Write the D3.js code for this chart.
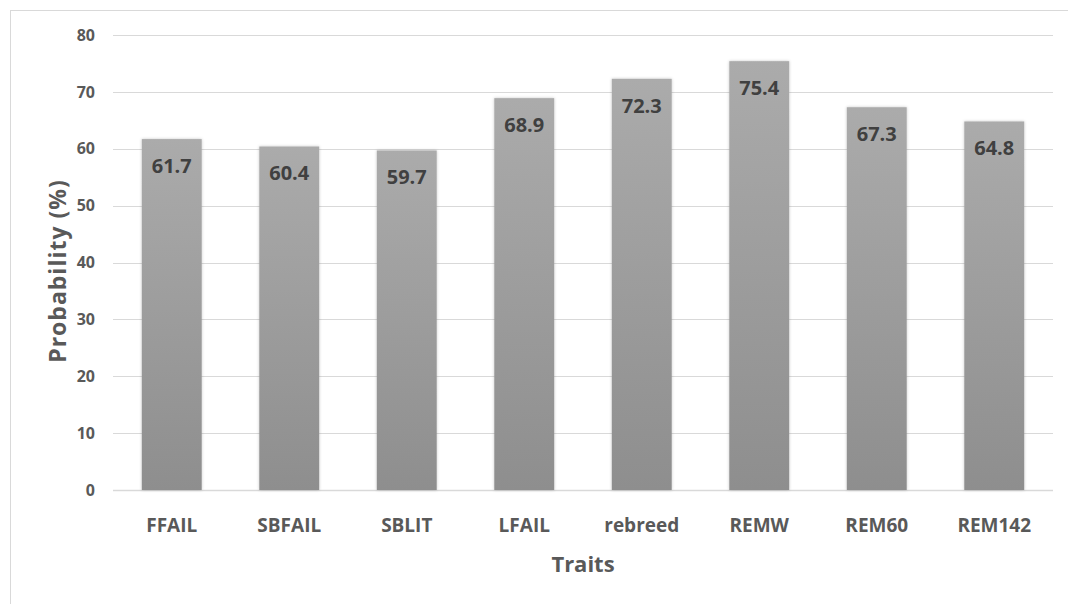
<!DOCTYPE html>
<html><head><meta charset="utf-8">
<script src="https://cdn.jsdelivr.net/npm/d3@7"></script>
<style>body{margin:0;background:#fff}svg{display:block}</style>
</head><body>
<script>
const categories = ["FFAIL","SBFAIL","SBLIT","LFAIL","rebreed","REMW","REM60","REM142"];
const values = [61.7, 60.4, 59.7, 68.9, 72.3, 75.4, 67.3, 64.8];
const yTicks = [0,10,20,30,40,50,60,70,80];

const W = 1068, H = 604;
const m = {left:113, right:15, top:35, bottom:114};
const svg = d3.select("body").append("svg").attr("width",W).attr("height",H);
const font = "'Open Sans', Lato, sans-serif";

const defs = svg.append("defs");
const g1 = defs.append("linearGradient").attr("id","barg").attr("x1",0).attr("y1",0).attr("x2",0).attr("y2",1);
g1.append("stop").attr("offset","0%").attr("stop-color","#ababab");
g1.append("stop").attr("offset","100%").attr("stop-color","#8e8e8e");
const f = defs.append("filter").attr("id","sh").attr("x","-20%").attr("y","-10%").attr("width","140%").attr("height","120%");
f.append("feDropShadow").attr("dx",0).attr("dy",0).attr("stdDeviation",1.8).attr("flood-color","#000").attr("flood-opacity",0.22);

// outer border
svg.append("rect").attr("x",10.5).attr("y",10.5).attr("width",W).attr("height",H)
  .attr("fill","none").attr("stroke","#d9d9d9").attr("stroke-width",1);

const x = d3.scaleBand().domain(categories).range([m.left, W-m.right]).paddingInner(0.49).paddingOuter(0.245);
const y = d3.scaleLinear().domain([0,80]).range([H-m.bottom, m.top]);

// grid
svg.append("g").selectAll("line").data(yTicks).join("line")
  .attr("x1",m.left).attr("x2",W-m.right)
  .attr("y1",d=>Math.round(y(d))+0.5).attr("y2",d=>Math.round(y(d))+0.5)
  .attr("stroke","#d9d9d9").attr("stroke-width",d=>d===0?1.5:1);

// y axis labels
const ya = svg.append("g").attr("transform",`translate(${m.left-18},0)`)
  .call(d3.axisLeft(y).tickValues(yTicks).tickSize(0).tickPadding(0));
ya.select(".domain").remove();
ya.selectAll("text").attr("font-family",font).attr("font-weight","bold").attr("font-size","16px").attr("fill","#595959");

// bars
svg.append("g").selectAll("rect").data(values).join("rect")
  .attr("x",(d,i)=>x(categories[i])).attr("width",x.bandwidth())
  .attr("y",d=>y(d)).attr("height",d=>y(0)-y(d))
  .attr("fill","url(#barg)").attr("filter","url(#sh)");

// value labels
svg.append("g").selectAll("text").data(values).join("text")
  .attr("x",(d,i)=>x(categories[i])+x.bandwidth()/2)
  .attr("y",d=>y(d)+34)
  .attr("text-anchor","middle").attr("font-family",font).attr("font-weight","bold")
  .attr("font-size","20px").attr("fill","#404040").text(d=>d.toFixed(1));

// x axis labels
const xa = svg.append("g").attr("transform",`translate(0,${y(0)})`)
  .call(d3.axisBottom(x).tickSize(0).tickPadding(0));
xa.select(".domain").remove();
xa.selectAll("text").attr("dy",null).attr("y",42).attr("font-family",font).attr("font-weight","bold").attr("font-size","19px").attr("fill","#595959");

// axis titles
svg.append("text").attr("transform","translate(66,271) rotate(-90)")
  .attr("text-anchor","middle").attr("font-family",font).attr("font-weight","bold")
  .attr("letter-spacing","1px")
  .attr("font-size","23px").attr("fill","#595959").text("Probability (%)");
svg.append("text").attr("x",583).attr("y",572)
  .attr("text-anchor","middle").attr("font-family",font).attr("font-weight","bold")
  .attr("font-size","22px").attr("fill","#595959").text("Traits");
</script>
</body></html>
